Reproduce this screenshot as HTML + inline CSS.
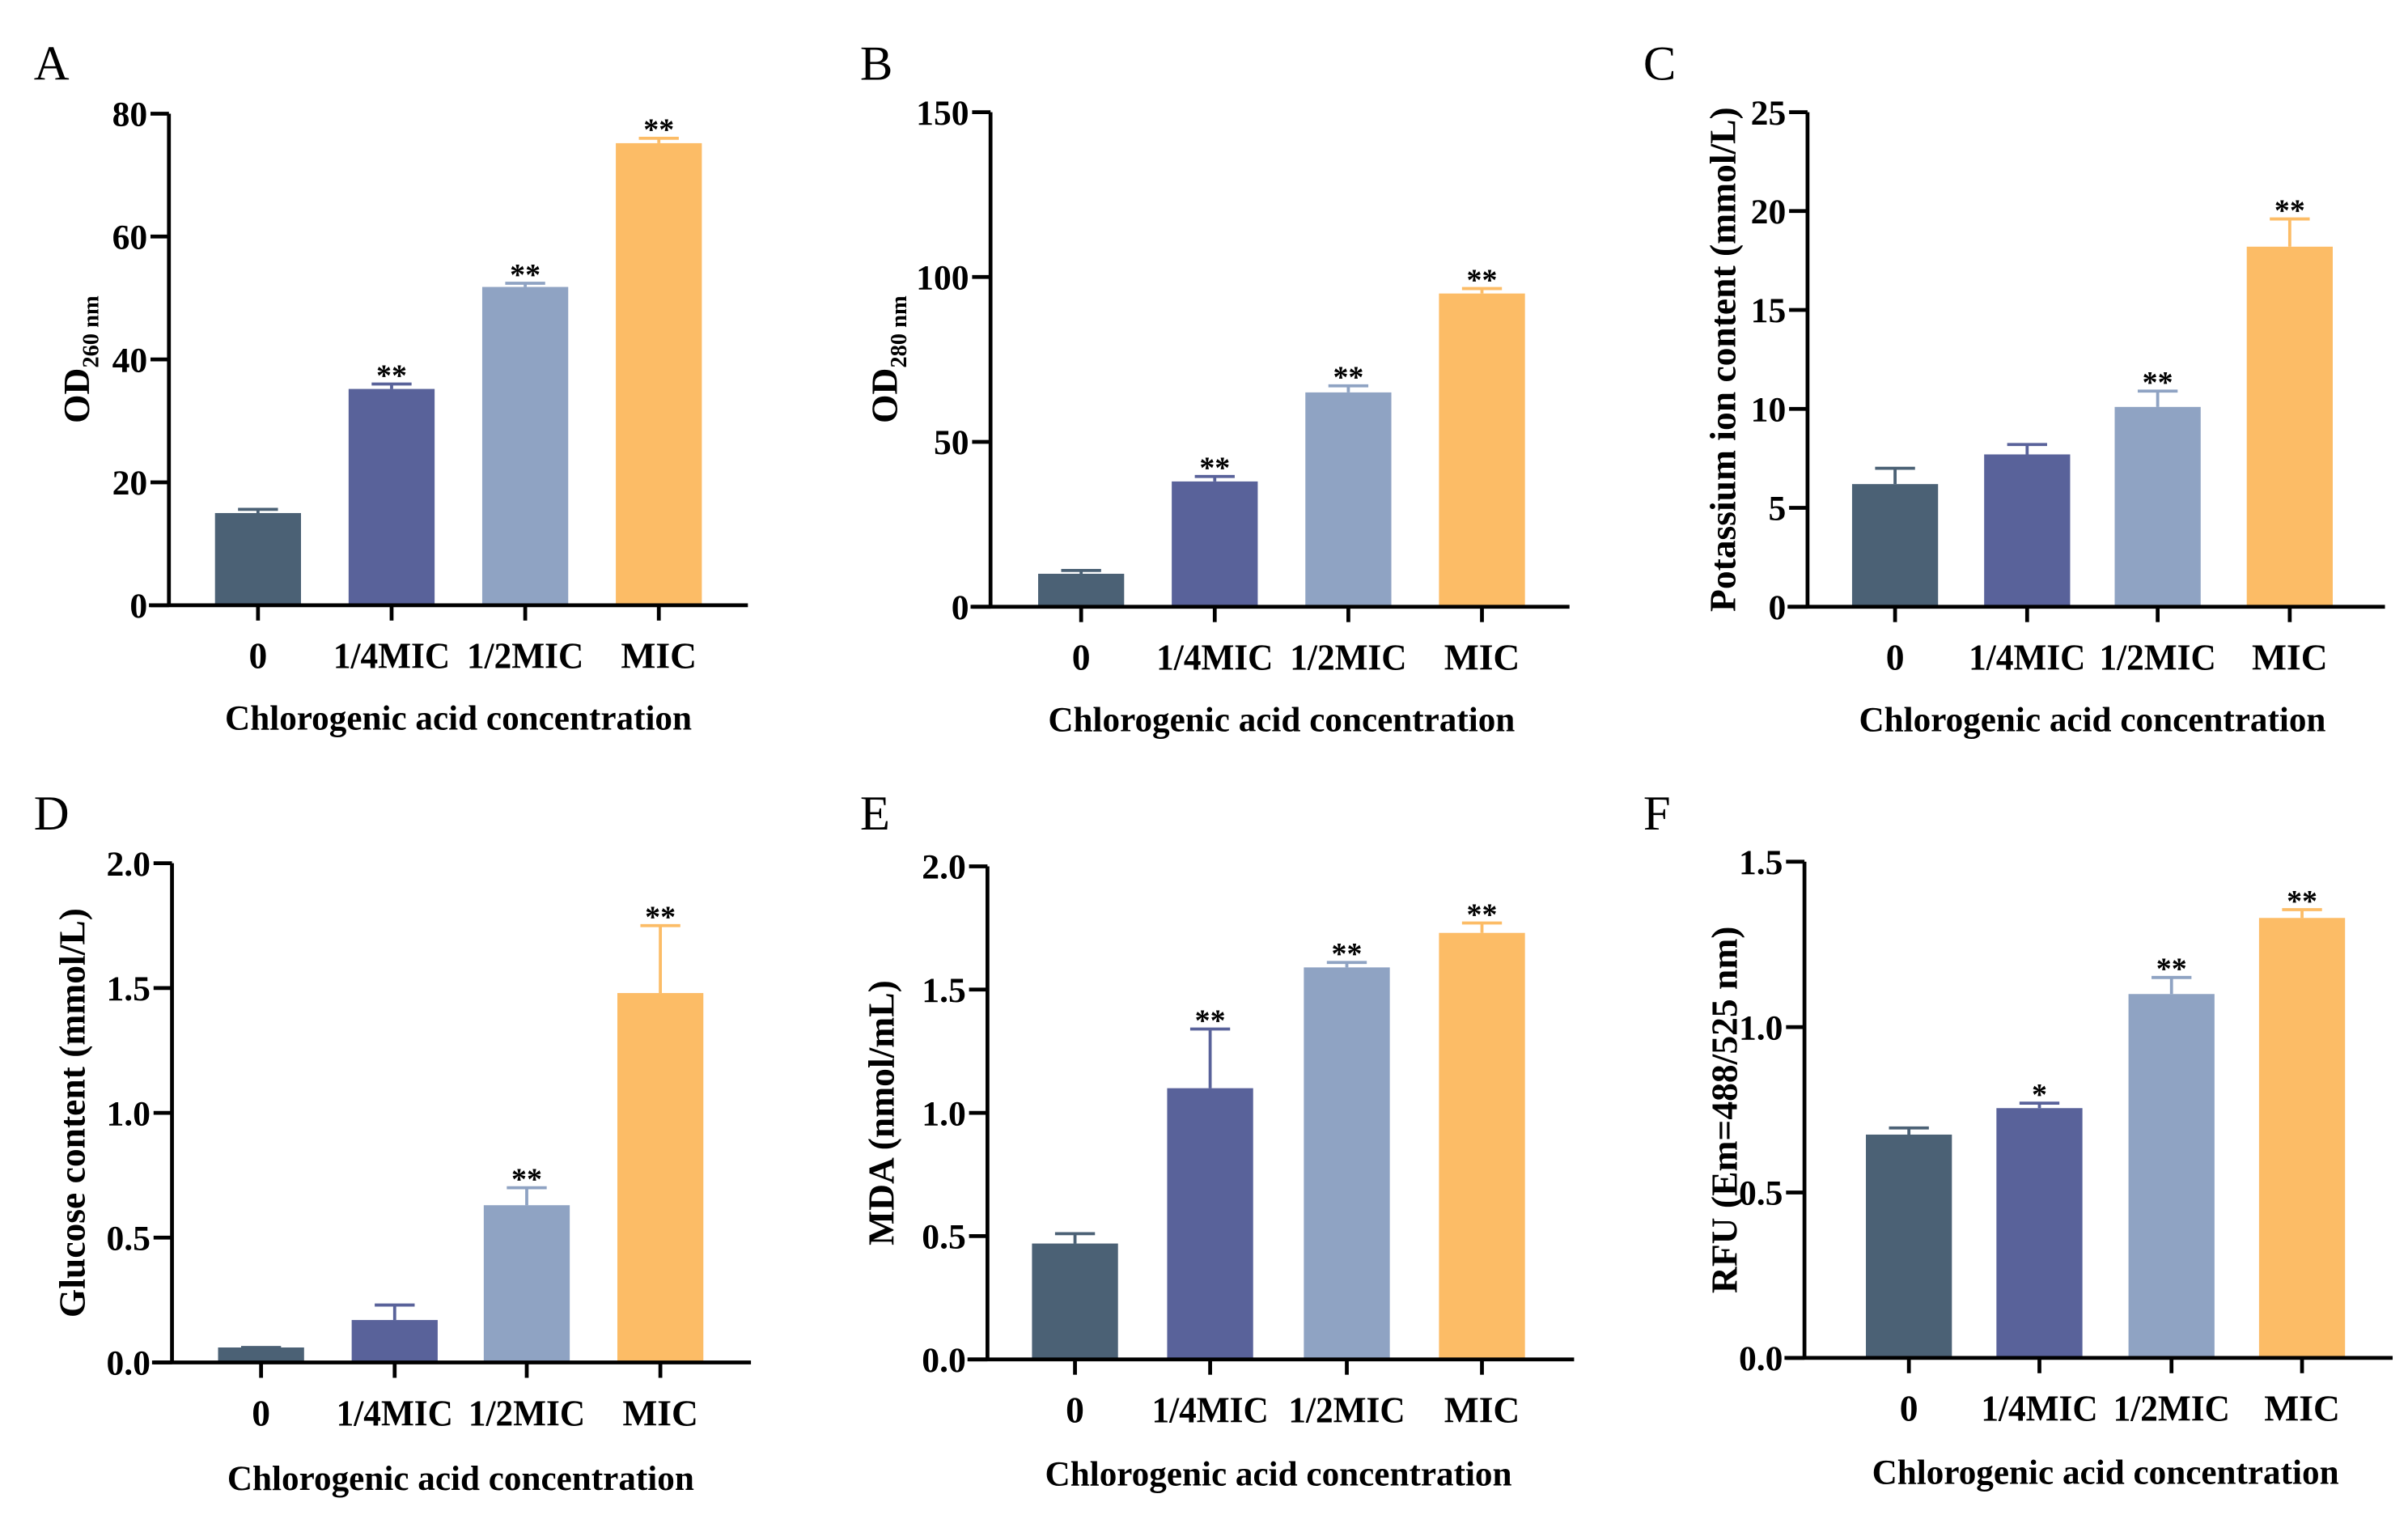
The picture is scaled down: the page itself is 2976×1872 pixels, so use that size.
<!DOCTYPE html>
<html><head><meta charset="utf-8"><style>
html,body{margin:0;padding:0;background:#fff;}
svg{display:block;font-family:"Liberation Serif",serif;}
</style></head><body>
<svg id="fig" xmlns="http://www.w3.org/2000/svg" width="2976" height="1872" viewBox="0 0 1568 986.3"></svg>
<script>
const categories = ["0","1/4MIC","1/2MIC","MIC"];
const colors = ["#4b6175","#59629a","#8fa3c3","#fcbc66"];
const valuesA = [15, 35.2, 51.8, 75.2];
const errorsA = [0.6, 0.8, 0.6, 0.8];
const starsA = ["", "**", "**", "**"];
const ticksA = [0, 20, 40, 60, 80];
const valuesB = [10, 38, 65, 95];
const errorsB = [1, 1.5, 2, 1.5];
const starsB = ["", "**", "**", "**"];
const ticksB = [0, 50, 100, 150];
const valuesC = [6.2, 7.7, 10.1, 18.2];
const errorsC = [0.8, 0.5, 0.8, 1.4];
const starsC = ["", "", "**", "**"];
const ticksC = [0, 5, 10, 15, 20, 25];
const valuesD = [0.06, 0.17, 0.63, 1.48];
const errorsD = [0.0, 0.06, 0.07, 0.27];
const starsD = ["", "", "**", "**"];
const ticksD = ["0.0","0.5","1.0","1.5","2.0"];
const valuesE = [0.47, 1.10, 1.59, 1.73];
const errorsE = [0.04, 0.24, 0.02, 0.04];
const starsE = ["", "**", "**", "**"];
const ticksE = ["0.0","0.5","1.0","1.5","2.0"];
const valuesF = [0.675, 0.755, 1.10, 1.33];
const errorsF = [0.02, 0.015, 0.05, 0.025];
const starsF = ["", "*", "**", "**"];
const ticksF = ["0.0","0.5","1.0","1.5"];

const NS = "http://www.w3.org/2000/svg";
const svg = document.getElementById("fig");
function mk(tag, attrs, parent, text){
  const e = document.createElementNS(NS, tag);
  for (const k in attrs) e.setAttribute(k, attrs[k]);
  if (text !== undefined) e.textContent = text;
  (parent || svg).appendChild(e);
  return e;
}

const panels = [
  {L:"A", lx:22, ly:52, ax:110, top:74, bot:394, xs:[168,255,342,429], x1:97, x2:487, v:valuesA, e:errorsA, s:starsA, t:ticksA, ylx:58, yl:"OD", sub:"260 nm", xly:475, tly:435},
  {L:"B", lx:560, ly:52, ax:645, top:73, bot:395, xs:[704,791,878,965], x1:632, x2:1022, v:valuesB, e:errorsB, s:starsB, t:ticksB, ylx:584, yl:"OD", sub:"280 nm", xly:476, tly:436},
  {L:"C", lx:1070, ly:52, ax:1177, top:73, bot:395, xs:[1234,1320,1405,1491], x1:1164, x2:1553, v:valuesC, e:errorsC, s:starsC, t:ticksC, ylx:1130, yl:"Potassium ion content (mmol/L)", xly:476, tly:436},
  {L:"D", lx:22, ly:540, ax:112, top:562, bot:887, xs:[170,257,343,430], x1:99, x2:489, v:valuesD, e:errorsD, s:starsD, t:ticksD, ylx:55, yl:"Glucose content (mmol/L)", xly:970, tly:928},
  {L:"E", lx:560, ly:540, ax:643, top:564, bot:885, xs:[700,788,877,965], x1:630, x2:1025, v:valuesE, e:errorsE, s:starsE, t:ticksE, ylx:582, yl:"MDA (nmol/mL)", xly:967, tly:926},
  {L:"F", lx:1070, ly:540, ax:1175, top:561, bot:884, xs:[1243,1328,1414,1499], x1:1162, x2:1558, v:valuesF, e:errorsF, s:starsF, t:ticksF, ylx:1131, yl:"RFU (Em=488/525 nm)", xly:966, tly:925}
];

panels.forEach(p => {
  const g = mk("g", {});
  
  
  const tnum = p.t.map(Number);
  const ymax = tnum[tnum.length-1];
  const y = v => p.bot - (v / ymax) * (p.bot - p.top);
  const bw = 56;
  const lt = mk("text", {x:p.lx, y:p.ly, "font-size":32}, g, p.L);
  
  
  p.v.forEach((val, i) => {
    const cx = p.xs[i];
    const yt = y(val);
    const r = mk("rect", {x:cx-bw/2, y:yt, width:bw, height:p.bot-yt, fill:colors[i]}, g);
    
    
    const ye = y(val + p.e[i]);
    const eb = mk("path", {d:`M${cx} ${yt} V${ye} M${cx-13} ${ye} H${cx+13}`, stroke:colors[i], "stroke-width":2, fill:"none"}, g);
    
    
    if (p.s[i]) {
      const st = mk("text", {x:cx, y:ye+1, "font-size":20, "font-weight":"bold", "text-anchor":"middle"}, g, p.s[i]);
      
      
    }
    const tk = mk("line", {x1:cx, x2:cx, y1:p.bot, y2:p.bot+10, stroke:"#000", "stroke-width":2.5}, g);
    
    
    const attrs = {x:cx, y:p.tly, "font-size":24, "font-weight":"bold", "text-anchor":"middle"};
    if (categories[i].length > 3) { attrs.textLength = 76; attrs.lengthAdjust = "spacingAndGlyphs"; }
    const tl = mk("text", attrs, g, categories[i]);
    
    
  });
  const ax = mk("path", {d:`M${p.ax} ${p.top} V${p.bot} M${p.x1} ${p.bot} H${p.x2}`, stroke:"#000", "stroke-width":2.5, fill:"none"}, g);
  
  
  p.t.forEach(t => {
    const yy = y(Number(t));
    const tk = mk("line", {x1:p.ax-12, x2:p.ax, y1:yy, y2:yy, stroke:"#000", "stroke-width":2.5}, g);
    
    
    const tl = mk("text", {x:p.ax-14, y:yy+8, "font-size":23, "font-weight":"bold", "text-anchor":"end"}, g, String(t));
    
    
  });
  const cy = (p.top + p.bot) / 2;
  const yl = mk("text", {x:0, y:0, "font-size":24, "font-weight":"bold", "text-anchor":"middle", transform:`translate(${p.ylx},${cy}) rotate(-90)`}, g);
  
  
  const t1 = document.createElementNS(NS, "tspan"); t1.textContent = p.yl; yl.appendChild(t1);
  if (p.sub) {
    const t2 = document.createElementNS(NS, "tspan");
    t2.setAttribute("font-size", "15"); t2.setAttribute("dy", "6");
    t2.textContent = p.sub; yl.appendChild(t2);
  }
  const xl = mk("text", {x:(p.xs[0]+p.xs[3])/2, y:p.xly, "font-size":23, "font-weight":"bold", "text-anchor":"middle", textLength:304, lengthAdjust:"spacingAndGlyphs"}, g, "Chlorogenic acid concentration");
  
  
});
</script>
</body></html>
